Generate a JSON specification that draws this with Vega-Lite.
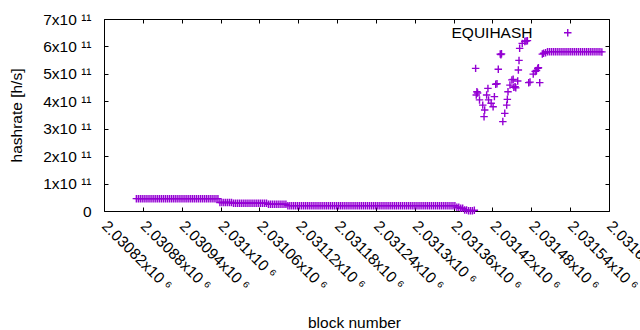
{
  "$schema": "https://vega.github.io/schema/vega-lite/v6.json",
  "width": 505,
  "height": 192,
  "autosize": {"type": "none"},
  "padding": {"left": 104, "top": 19, "right": 31, "bottom": 119},
  "background": "white",
  "config": {
    "font": "Liberation Sans",
    "view": {"stroke": "black", "strokeWidth": 1},
    "axis": {
      "labelFont": "Liberation Sans",
      "titleFont": "Liberation Sans",
      "labelFontSize": 15.5,
      "titleFontSize": 15.5,
      "titleFontWeight": "normal",
      "labelColor": "black",
      "titleColor": "black",
      "tickColor": "black",
      "tickWidth": 1,
      "tickSize": -4,
      "domain": false,
      "grid": false,
      "labelOverlap": false,
      "labelBound": false,
      "labelFlush": false
    }
  },
  "data": {
    "values": [
      {"block": 2030870, "hashrate": 4.5e10}, {"block": 2030873, "hashrate": 4.5e10}, {"block": 2030876, "hashrate": 4.5e10}, {"block": 2030879, "hashrate": 4.5e10}, {"block": 2030882, "hashrate": 4.5e10}, {"block": 2030885, "hashrate": 4.5e10}, {"block": 2030888, "hashrate": 4.5e10}, {"block": 2030891, "hashrate": 4.5e10}, {"block": 2030894, "hashrate": 4.5e10}, {"block": 2030897, "hashrate": 4.5e10}, {"block": 2030900, "hashrate": 4.5e10}, {"block": 2030903, "hashrate": 4.5e10}, {"block": 2030906, "hashrate": 4.5e10}, {"block": 2030909, "hashrate": 4.5e10}, {"block": 2030912, "hashrate": 4.5e10}, {"block": 2030915, "hashrate": 4.5e10}, {"block": 2030918, "hashrate": 4.5e10}, {"block": 2030921, "hashrate": 4.5e10}, {"block": 2030924, "hashrate": 4.5e10}, {"block": 2030927, "hashrate": 4.5e10}, {"block": 2030930, "hashrate": 4.5e10}, {"block": 2030933, "hashrate": 4.5e10}, {"block": 2030936, "hashrate": 4.5e10}, {"block": 2030939, "hashrate": 4.5e10}, {"block": 2030942, "hashrate": 4.5e10}, {"block": 2030945, "hashrate": 4.5e10}, {"block": 2030948, "hashrate": 4.5e10}, {"block": 2030951, "hashrate": 4.5e10}, {"block": 2030954, "hashrate": 4.5e10}, {"block": 2030957, "hashrate": 4.5e10}, {"block": 2030960, "hashrate": 4.5e10}, {"block": 2030963, "hashrate": 4.5e10}, {"block": 2030966, "hashrate": 4.5e10}, {"block": 2030969, "hashrate": 4.5e10}, {"block": 2030972, "hashrate": 4.5e10}, {"block": 2030975, "hashrate": 4.5e10}, {"block": 2030978, "hashrate": 4.5e10}, {"block": 2030981, "hashrate": 4.5e10}, {"block": 2030984, "hashrate": 4.5e10}, {"block": 2030987, "hashrate": 4.5e10}, {"block": 2030990, "hashrate": 4.5e10}, {"block": 2030993, "hashrate": 4.5e10}, {"block": 2030996, "hashrate": 4.5e10},
      {"block": 2030999, "hashrate": 3.1e10}, {"block": 2031002, "hashrate": 3.1e10}, {"block": 2031005, "hashrate": 3.1e10}, {"block": 2031008, "hashrate": 3.1e10}, {"block": 2031011, "hashrate": 3.1e10}, {"block": 2031014, "hashrate": 3.1e10}, {"block": 2031017, "hashrate": 3.1e10},
      {"block": 2031020, "hashrate": 2.8e10}, {"block": 2031023, "hashrate": 2.8e10}, {"block": 2031026, "hashrate": 2.8e10}, {"block": 2031029, "hashrate": 2.8e10}, {"block": 2031032, "hashrate": 2.8e10}, {"block": 2031035, "hashrate": 2.8e10}, {"block": 2031038, "hashrate": 2.8e10}, {"block": 2031041, "hashrate": 2.8e10}, {"block": 2031044, "hashrate": 2.8e10}, {"block": 2031047, "hashrate": 2.8e10}, {"block": 2031050, "hashrate": 2.8e10}, {"block": 2031053, "hashrate": 2.8e10}, {"block": 2031056, "hashrate": 2.8e10}, {"block": 2031059, "hashrate": 2.8e10}, {"block": 2031062, "hashrate": 2.8e10}, {"block": 2031065, "hashrate": 2.8e10}, {"block": 2031068, "hashrate": 2.8e10}, {"block": 2031071, "hashrate": 2.8e10},
      {"block": 2031074, "hashrate": 2.45e10}, {"block": 2031077, "hashrate": 2.45e10}, {"block": 2031080, "hashrate": 2.45e10}, {"block": 2031083, "hashrate": 2.45e10}, {"block": 2031086, "hashrate": 2.45e10}, {"block": 2031089, "hashrate": 2.45e10}, {"block": 2031092, "hashrate": 2.45e10}, {"block": 2031095, "hashrate": 2.45e10}, {"block": 2031098, "hashrate": 2.45e10}, {"block": 2031101, "hashrate": 2.45e10},
      {"block": 2031104, "hashrate": 1.95e10}, {"block": 2031107, "hashrate": 1.95e10}, {"block": 2031110, "hashrate": 1.95e10}, {"block": 2031113, "hashrate": 1.95e10}, {"block": 2031116, "hashrate": 1.95e10}, {"block": 2031119, "hashrate": 1.95e10}, {"block": 2031122, "hashrate": 1.95e10}, {"block": 2031125, "hashrate": 1.95e10}, {"block": 2031128, "hashrate": 1.95e10}, {"block": 2031131, "hashrate": 1.95e10}, {"block": 2031134, "hashrate": 1.95e10}, {"block": 2031137, "hashrate": 1.95e10}, {"block": 2031140, "hashrate": 1.95e10}, {"block": 2031143, "hashrate": 1.95e10}, {"block": 2031146, "hashrate": 1.95e10}, {"block": 2031149, "hashrate": 1.95e10}, {"block": 2031152, "hashrate": 1.95e10}, {"block": 2031155, "hashrate": 1.95e10}, {"block": 2031158, "hashrate": 1.95e10}, {"block": 2031161, "hashrate": 1.95e10}, {"block": 2031164, "hashrate": 1.95e10}, {"block": 2031167, "hashrate": 1.95e10}, {"block": 2031170, "hashrate": 1.95e10}, {"block": 2031173, "hashrate": 1.95e10}, {"block": 2031176, "hashrate": 1.95e10}, {"block": 2031179, "hashrate": 1.95e10}, {"block": 2031182, "hashrate": 1.95e10}, {"block": 2031185, "hashrate": 1.95e10}, {"block": 2031188, "hashrate": 1.95e10}, {"block": 2031191, "hashrate": 1.95e10}, {"block": 2031194, "hashrate": 1.95e10}, {"block": 2031197, "hashrate": 1.95e10}, {"block": 2031200, "hashrate": 1.95e10}, {"block": 2031203, "hashrate": 1.95e10}, {"block": 2031206, "hashrate": 1.95e10}, {"block": 2031209, "hashrate": 1.95e10}, {"block": 2031212, "hashrate": 1.95e10}, {"block": 2031215, "hashrate": 1.95e10}, {"block": 2031218, "hashrate": 1.95e10}, {"block": 2031221, "hashrate": 1.95e10}, {"block": 2031224, "hashrate": 1.95e10}, {"block": 2031227, "hashrate": 1.95e10}, {"block": 2031230, "hashrate": 1.95e10}, {"block": 2031233, "hashrate": 1.95e10}, {"block": 2031236, "hashrate": 1.95e10}, {"block": 2031239, "hashrate": 1.95e10}, {"block": 2031242, "hashrate": 1.95e10}, {"block": 2031245, "hashrate": 1.95e10}, {"block": 2031248, "hashrate": 1.95e10}, {"block": 2031251, "hashrate": 1.95e10}, {"block": 2031254, "hashrate": 1.95e10}, {"block": 2031257, "hashrate": 1.95e10}, {"block": 2031260, "hashrate": 1.95e10}, {"block": 2031263, "hashrate": 1.95e10}, {"block": 2031266, "hashrate": 1.95e10}, {"block": 2031269, "hashrate": 1.95e10}, {"block": 2031272, "hashrate": 1.95e10}, {"block": 2031275, "hashrate": 1.95e10}, {"block": 2031278, "hashrate": 1.95e10}, {"block": 2031281, "hashrate": 1.95e10}, {"block": 2031284, "hashrate": 1.95e10}, {"block": 2031287, "hashrate": 1.95e10}, {"block": 2031290, "hashrate": 1.95e10}, {"block": 2031293, "hashrate": 1.95e10}, {"block": 2031296, "hashrate": 1.95e10}, {"block": 2031299, "hashrate": 1.95e10}, {"block": 2031302, "hashrate": 1.95e10}, {"block": 2031305, "hashrate": 1.95e10}, {"block": 2031308, "hashrate": 1.95e10}, {"block": 2031311, "hashrate": 1.95e10}, {"block": 2031314, "hashrate": 1.95e10}, {"block": 2031317, "hashrate": 1.95e10}, {"block": 2031320, "hashrate": 1.95e10}, {"block": 2031323, "hashrate": 1.95e10}, {"block": 2031326, "hashrate": 1.95e10}, {"block": 2031329, "hashrate": 1.95e10}, {"block": 2031332, "hashrate": 1.95e10}, {"block": 2031335, "hashrate": 1.95e10}, {"block": 2031338, "hashrate": 1.95e10}, {"block": 2031341, "hashrate": 1.95e10}, {"block": 2031344, "hashrate": 1.95e10}, {"block": 2031347, "hashrate": 1.95e10}, {"block": 2031350, "hashrate": 1.95e10}, {"block": 2031353, "hashrate": 1.95e10}, {"block": 2031356, "hashrate": 1.95e10}, {"block": 2031359, "hashrate": 1.95e10}, {"block": 2031362, "hashrate": 1.95e10},
      {"block": 2031365, "hashrate": 1.4e10}, {"block": 2031368, "hashrate": 1.35e10}, {"block": 2031371, "hashrate": 1.0e10}, {"block": 2031374, "hashrate": 1.0e10}, {"block": 2031377, "hashrate": 4.0e9}, {"block": 2031380, "hashrate": 3.5e9}, {"block": 2031383, "hashrate": 1.0e9}, {"block": 2031386, "hashrate": 1.0e9}, {"block": 2031389, "hashrate": 5.0e8}, {"block": 2031392, "hashrate": 3.0e9},
      {"block": 2031394, "hashrate": 5.20e11}, {"block": 2031395, "hashrate": 4.23e11}, {"block": 2031396, "hashrate": 4.35e11}, {"block": 2031397, "hashrate": 4.30e11}, {"block": 2031400, "hashrate": 4.05e11}, {"block": 2031405, "hashrate": 3.86e11}, {"block": 2031407, "hashrate": 3.44e11}, {"block": 2031408, "hashrate": 3.68e11}, {"block": 2031411, "hashrate": 4.23e11}, {"block": 2031413, "hashrate": 4.47e11}, {"block": 2031414, "hashrate": 4.05e11}, {"block": 2031418, "hashrate": 3.93e11}, {"block": 2031421, "hashrate": 3.80e11}, {"block": 2031423, "hashrate": 4.17e11}, {"block": 2031425, "hashrate": 4.62e11}, {"block": 2031427, "hashrate": 4.64e11}, {"block": 2031429, "hashrate": 5.17e11}, {"block": 2031432, "hashrate": 5.72e11}, {"block": 2031433, "hashrate": 5.70e11}, {"block": 2031434, "hashrate": 5.73e11}, {"block": 2031436, "hashrate": 3.26e11}, {"block": 2031439, "hashrate": 3.56e11}, {"block": 2031442, "hashrate": 3.86e11}, {"block": 2031443, "hashrate": 4.07e11}, {"block": 2031444, "hashrate": 4.35e11}, {"block": 2031447, "hashrate": 4.59e11}, {"block": 2031450, "hashrate": 4.78e11}, {"block": 2031452, "hashrate": 4.80e11}, {"block": 2031453, "hashrate": 4.51e11}, {"block": 2031455, "hashrate": 4.53e11}, {"block": 2031456, "hashrate": 4.49e11}, {"block": 2031459, "hashrate": 4.74e11}, {"block": 2031460, "hashrate": 5.14e11}, {"block": 2031461, "hashrate": 5.49e11}, {"block": 2031462, "hashrate": 5.93e11}, {"block": 2031466, "hashrate": 6.11e11}, {"block": 2031470, "hashrate": 6.18e11}, {"block": 2031472, "hashrate": 6.20e11}, {"block": 2031474, "hashrate": 6.21e11}, {"block": 2031476, "hashrate": 4.68e11}, {"block": 2031478, "hashrate": 4.70e11}, {"block": 2031483, "hashrate": 4.99e11}, {"block": 2031486, "hashrate": 5.09e11}, {"block": 2031488, "hashrate": 5.12e11}, {"block": 2031490, "hashrate": 5.20e11}, {"block": 2031491, "hashrate": 5.22e11}, {"block": 2031493, "hashrate": 4.68e11}, {"block": 2031497, "hashrate": 5.72e11}, {"block": 2031499, "hashrate": 5.75e11}, {"block": 2031502, "hashrate": 5.77e11},
      {"block": 2031505, "hashrate": 5.81e11}, {"block": 2031508, "hashrate": 5.81e11}, {"block": 2031511, "hashrate": 5.81e11}, {"block": 2031514, "hashrate": 5.81e11}, {"block": 2031517, "hashrate": 5.81e11}, {"block": 2031520, "hashrate": 5.81e11}, {"block": 2031523, "hashrate": 5.81e11}, {"block": 2031526, "hashrate": 5.81e11}, {"block": 2031529, "hashrate": 5.81e11}, {"block": 2031532, "hashrate": 5.81e11}, {"block": 2031535, "hashrate": 5.81e11}, {"block": 2031538, "hashrate": 5.81e11}, {"block": 2031541, "hashrate": 5.81e11}, {"block": 2031544, "hashrate": 5.81e11}, {"block": 2031547, "hashrate": 5.81e11}, {"block": 2031550, "hashrate": 5.81e11}, {"block": 2031553, "hashrate": 5.81e11}, {"block": 2031556, "hashrate": 5.81e11}, {"block": 2031559, "hashrate": 5.81e11}, {"block": 2031562, "hashrate": 5.81e11}, {"block": 2031565, "hashrate": 5.81e11}, {"block": 2031568, "hashrate": 5.81e11}, {"block": 2031571, "hashrate": 5.81e11}, {"block": 2031574, "hashrate": 5.81e11}, {"block": 2031577, "hashrate": 5.81e11}, {"block": 2031580, "hashrate": 5.81e11}, {"block": 2031583, "hashrate": 5.81e11}, {"block": 2031586, "hashrate": 5.81e11}, {"block": 2031589, "hashrate": 5.80e11}
    ]
  },
  "layer": [
    {
      "mark": {"type": "point", "shape": "M-1,0H1M0,-1V1", "filled": false, "strokeWidth": 1.4, "size": 56, "opacity": 1},
      "encoding": {
        "x": {
          "field": "block", "type": "quantitative",
          "scale": {"domain": [2030820, 2031600], "nice": false, "zero": false},
          "axis": {
            "values": [2030820, 2030880, 2030940, 2031000, 2031060, 2031120, 2031180, 2031240, 2031300, 2031360, 2031420, 2031480, 2031540, 2031600],
            "labelExpr": "format(datum.value / 1e6, '.5~f') + 'x10 ⁶'",
            "labelAngle": 45,
            "labelAlign": "left",
            "labelBaseline": "middle",
            "labelPadding": 16,
            "title": "block number",
            "titleX": 250,
            "titleY": 116,
            "titleBaseline": "alphabetic"
          }
        },
        "y": {
          "field": "hashrate", "type": "quantitative",
          "scale": {"domain": [0, 7e11], "nice": false},
          "axis": {
            "values": [0, 1e11, 2e11, 3e11, 4e11, 5e11, 6e11, 7e11],
            "labelExpr": "datum.value == 0 ? '0' : format(datum.value / 1e11, 'd') + 'x10 ¹¹'",
            "labelPadding": 17,
            "title": "hashrate [h/s]",
            "titleX": -83,
            "titleY": 96,
            "titleBaseline": "alphabetic"
          }
        },
        "color": {
          "datum": "EQUIHASH",
          "scale": {"range": ["#9400d3"]},
          "legend": {
            "orient": "none",
            "legendX": 456,
            "legendY": 6,
            "title": null,
            "padding": 0,
            "labelAlign": "right",
            "labelOffset": -43,
            "labelFont": "Liberation Sans",
            "labelFontSize": 15.5,
            "labelColor": "black",
            "symbolType": "M-1,0H1M0,-1V1",
            "symbolSize": 56,
            "symbolStrokeWidth": 1.4,
            "symbolFillColor": "transparent"
          }
        }
      }
    },
    {
      "mark": {"type": "point", "opacity": 0},
      "encoding": {
        "x": {"field": "block", "type": "quantitative", "axis": {"orient": "top", "labels": false, "title": null, "values": [2030820, 2030880, 2030940, 2031000, 2031060, 2031120, 2031180, 2031240, 2031300, 2031360, 2031420, 2031480, 2031540, 2031600]}},
        "y": {"field": "hashrate", "type": "quantitative", "axis": {"orient": "right", "labels": false, "title": null, "values": [0, 1e11, 2e11, 3e11, 4e11, 5e11, 6e11, 7e11]}}
      }
    }
  ],
  "resolve": {"axis": {"x": "independent", "y": "independent"}}
}
